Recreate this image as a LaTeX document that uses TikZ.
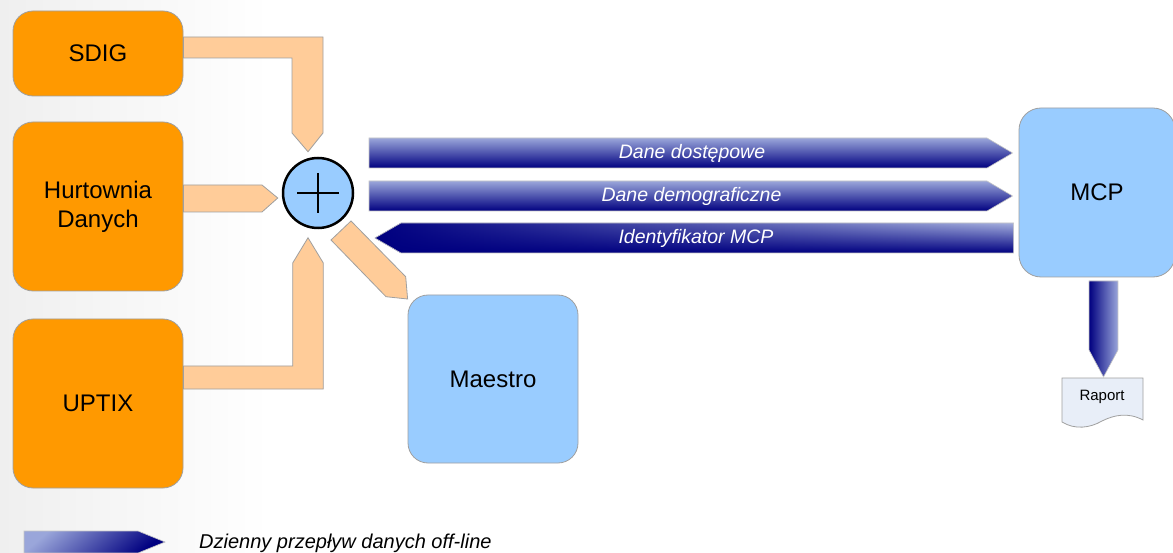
\documentclass[tikz,border=0pt]{standalone}
\usepackage{fontspec}
\setmainfont{Liberation Sans}
\usetikzlibrary{calc,fadings}
\definecolor{orng}{HTML}{FF9900}
\definecolor{lorng}{HTML}{FFCC99}
\definecolor{lblue}{HTML}{99CCFF}
\definecolor{navyc}{HTML}{000080}
\definecolor{litec}{HTML}{9AA6DA}
\definecolor{edgec}{HTML}{A0A0A0}
\definecolor{docc}{HTML}{E8EEF8}
\definecolor{bgl}{HTML}{EFEFEF}
\tikzfading[name=fadeR, left color=transparent!0, middle color=transparent!30, right color=transparent!100]
\begin{document}
\begin{tikzpicture}[x=1pt,y=-1pt,
  box/.style={rectangle, rounded corners=20pt, draw=edgec, line width=0.8pt, inner sep=0pt, align=center, font=\fontsize{24}{29}\selectfont},
  srcbox/.style={box, fill=orng},
  dstbox/.style={box, fill=lblue},
  flow/.style={fill=lorng, draw=edgec, line width=0.8pt},
  blueflow/.style={draw=gray!45, line width=0.6pt},
  lbl/.style={text=white, font=\fontsize{19.5}{22}\selectfont\itshape, inner sep=0pt}
]
\useasboundingbox (0,0) rectangle (1173,553);
\fill[white] (0,0) rectangle (1173,553);
\shade[left color=bgl, right color=white] (0,0) rectangle (270,553);

% nodes
\node[srcbox, minimum width=170pt, minimum height=85pt] (sdig) at (98,53.5) {SDIG};
\node[srcbox, minimum width=170pt, minimum height=169pt] (hurt) at (98,206.5) {Hurtownia\\Danych};
\node[srcbox, minimum width=170pt, minimum height=169pt] (uptix) at (98,403.5) {UPTIX};
\node[circle, draw=black, line width=2.5pt, fill=lblue, minimum size=70pt, inner sep=0pt] (sum) at (318,193) {};
\node[dstbox, minimum width=170pt, minimum height=168pt] (maestro) at (493,379) {Maestro};
\node[dstbox, rounded corners=22pt, minimum width=156pt, minimum height=169pt] (mcp) at (1097,192.5) {MCP};

% plus sign
\draw[line width=2pt] ($(sum.center)+(-21,0)$) -- ($(sum.center)+(21,0)$);
\draw[line width=2pt] ($(sum.center)+(0,-20)$) -- ($(sum.center)+(0,20)$);

% orange flows
\draw[flow] (sdig.east |- 0,37) -- (323,37) -- (323,133) -- ($(sum.north)+(-10,-5)$) -- (292,133) -- (292,58) -- (sdig.east |- 0,58) -- cycle;
\draw[flow] (hurt.east |- 0,185) -- (262,185) -- ($(sum.west)+(-4,5)$) -- (262,212) -- (hurt.east |- 0,212) -- cycle;
\draw[flow] (uptix.east |- 0,366) -- (292.7,366) -- (292.7,263) -- ($(sum.south)+(-10,8.5)$) -- (323.3,263) -- (323.3,389) -- (uptix.east |- 0,389) -- cycle;
\draw[flow] (331,240) -- (351,221) -- (405.7,276.7) -- (maestro.north west |- 0,299) -- (386,296.7) -- cycle;

% blue flows
\shade[blueflow, top color=litec, bottom color=navyc] (369,138) -- (987,138) -- ($(mcp.west)+(-6,-39.5)$) -- (987,168) -- (369,168) -- cycle;
\shade[blueflow, top color=litec, bottom color=navyc] (369,181) -- (987,181) -- ($(mcp.west)+(-6,3.5)$) -- (987,211) -- (369,211) -- cycle;
\shade[top color=litec!90!white, bottom color=navyc] ($(mcp.west)+(-5,30.5)$) -- (401,223) -- (375,238) -- (401,253) -- ($(mcp.west)+(-5,60.5)$) -- cycle;
\fill[navyc, path fading=fadeR] ($(mcp.west)+(-5,30.5)$) -- (401,223) -- (375,238) -- (401,253) -- ($(mcp.west)+(-5,60.5)$) -- cycle;
\draw[blueflow] ($(mcp.west)+(-5,30.5)$) -- (401,223) -- (375,238) -- (401,253) -- ($(mcp.west)+(-5,60.5)$) -- cycle;
\shade[blueflow, left color=navyc, right color=litec] (1089,281) -- (1118,281) -- (1118,350) -- (1103.5,377) -- (1089,350) -- cycle;

% labels on flows
\node[lbl] (l1) at (692,153) {Dane dostępowe};
\node[lbl] (l2) at (691.5,196) {Dane demograficzne};
\node[lbl] (l3) at (696,238) {Identyfikator MCP};

% report document
\draw[fill=docc, draw=edgec, line width=0.8pt] (1062,378) -- (1143,378) -- (1143,420)
  .. controls (1128,412) and (1114,415) .. (1102,421)
  .. controls (1090,428) and (1075,430) .. (1062,422) -- cycle;
\node[font=\fontsize{15}{18}\selectfont, inner sep=0pt] (raport) at (1102,397) {Raport};

% legend
\shade[blueflow, top color=litec, bottom color=navyc, shading angle=40] (24,531) -- (138,531) -- (165,542) -- (138,553) -- (24,553) -- cycle;
\node[anchor=west, font=\fontsize{20}{24}\selectfont\itshape, inner sep=0pt] (leg) at (199,543) {Dzienny przepływ danych off-line};
\end{tikzpicture}
\end{document}
